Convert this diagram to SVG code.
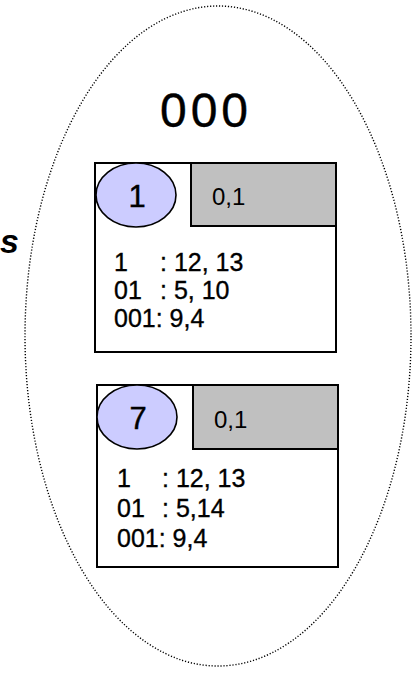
<svg xmlns="http://www.w3.org/2000/svg" width="416" height="676" viewBox="0 0 416 676">
<style>
  text { font-family: "Liberation Sans", "DejaVu Sans", sans-serif; fill: #000; }
  .outer { fill: none; stroke: #000; stroke-width: 1.4; stroke-dasharray: 1.2 1.8; }
  .box { fill: #fff; stroke: #000; stroke-width: 2; }
  .gray { fill: #c0c0c0; stroke: #000; stroke-width: 2; }
  .id { fill: #ccccff; stroke: #000; stroke-width: 1.6; }
  .idt { font-size: 31px; text-anchor: middle; stroke: #000; stroke-width: 0.4; }
  .gt { font-size: 24px; }
  .bt { font-size: 25px; stroke: #000; stroke-width: 0.35; }
</style>
<rect width="416" height="676" fill="#fff"/>
<g id="region">
  <ellipse class="outer" cx="218" cy="336" rx="193" ry="330"/>
  <text x="206" y="127" font-size="48" text-anchor="middle" letter-spacing="4" stroke="#000" stroke-width="0.4">000</text>
</g>
<text x="0" y="253" font-size="34" font-weight="bold" font-style="italic">s</text>
<g id="node1">
  <rect class="box" x="95" y="163" width="241" height="189"/>
  <rect class="gray" x="191" y="163" width="145" height="63"/>
  <ellipse class="id" cx="136" cy="195" rx="40" ry="32"/>
  <text class="idt" x="137" y="207">1</text>
  <text class="gt" x="212" y="205">0,1</text>
  <text class="bt" x="114" y="271">1</text>
  <text class="bt" x="160" y="271">: 12, 13</text>
  <text class="bt" x="114" y="299">01</text>
  <text class="bt" x="160" y="299">: 5, 10</text>
  <text class="bt" x="114" y="327">001: 9,4</text>
</g>
<g id="node2">
  <rect class="box" x="97" y="385" width="241" height="182"/>
  <rect class="gray" x="193" y="385" width="145" height="64"/>
  <ellipse class="id" cx="137" cy="417" rx="40" ry="32"/>
  <text class="idt" x="138" y="429">7</text>
  <text class="gt" x="214" y="428">0,1</text>
  <text class="bt" x="117" y="487">1</text>
  <text class="bt" x="162" y="487">: 12, 13</text>
  <text class="bt" x="117" y="517">01</text>
  <text class="bt" x="162" y="517">: 5,14</text>
  <text class="bt" x="117" y="547">001: 9,4</text>
</g>
<g id="connectors"></g>
</svg>
